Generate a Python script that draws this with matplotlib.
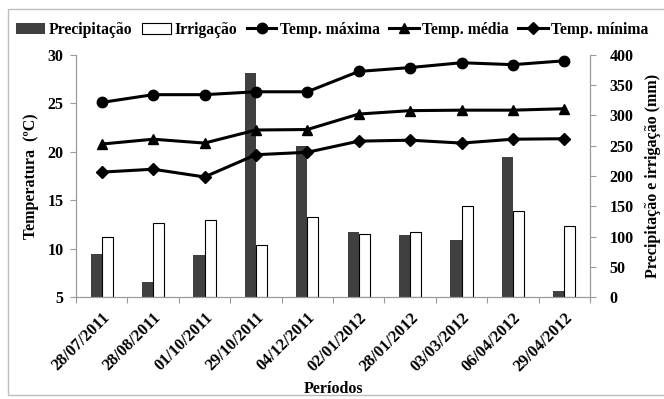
import matplotlib
matplotlib.use("Agg")
from matplotlib import pyplot as plt
from matplotlib.patches import Rectangle
import numpy as np

plt.rcParams['font.family'] = ['Liberation Serif', 'DejaVu Serif']
plt.rcParams['font.weight'] = 'bold'

periodos = ['28/07/2011', '28/08/2011', '01/10/2011', '29/10/2011', '04/12/2011',
            '02/01/2012', '28/01/2012', '03/03/2012', '06/04/2012', '29/04/2012']
precipitacao = [71, 24, 69, 370, 250, 107, 102, 95, 231, 10]
irrigacao = [99, 122, 127, 86, 132, 104, 107, 151, 142, 118]
temp_max = [25.1, 25.9, 25.9, 26.2, 26.2, 28.3, 28.7, 29.2, 29.0, 29.4]
temp_med = [20.8, 21.3, 20.9, 22.25, 22.3, 23.9, 24.25, 24.3, 24.3, 24.45]
temp_min = [17.9, 18.2, 17.4, 19.7, 19.95, 21.1, 21.2, 20.9, 21.3, 21.35]

x = np.arange(len(periodos))
w = 0.215
spine_col = '#9a9a9a'

fig = plt.figure(figsize=(6.64, 3.99), dpi=100)
ax = fig.add_axes([0.1145, 0.2556, 0.7741, 0.6066])
ax2 = ax.twinx()

ax2.bar(x - w / 2, precipitacao, w, color='#404040', label='Precipitação')
ax2.bar(x + w / 2, irrigacao, w, color='white', edgecolor='black', linewidth=0.8,
        label='Irrigação')

ax.plot(x, temp_max, 'k-', marker='o', markersize=7.5, linewidth=2.2, label='Temp. máxima')
ax.plot(x, temp_med, 'k-', marker='^', markersize=7.5, linewidth=2.2, label='Temp. média')
ax.plot(x, temp_min, 'k-', marker='D', markersize=6, linewidth=2.2, label='Temp. mínima')

ax.set_zorder(ax2.get_zorder() + 1)
ax.patch.set_visible(False)

ax.set_xlim(-0.5, len(periodos) - 0.5)
ax.set_ylim(5, 30)
ax.set_yticks(np.arange(5, 31, 5))
ax2.set_ylim(0, 400)
ax2.set_yticks(np.arange(0, 401, 50))

ax.set_xticks(np.arange(-0.5, len(periodos), 1))
ax.set_xticklabels([])
ax.set_xticks(x, minor=True)
ax.set_xticklabels(periodos, minor=True, rotation=45, ha='right',
                   rotation_mode='anchor', fontsize=12, fontweight='bold')
ax.tick_params(axis='x', which='minor', length=0, pad=9)
ax.tick_params(axis='x', which='major', length=4, color=spine_col)
ax.tick_params(axis='y', length=4, color=spine_col, labelsize=11.5, pad=5)
ax2.tick_params(axis='y', length=4, color=spine_col, labelsize=11.5, pad=10)

for a in (ax, ax2):
    a.spines['top'].set_visible(False)
    for s in ('left', 'right', 'bottom'):
        a.spines[s].set_color(spine_col)

ax.set_ylabel('Temperatura  (ºC)', fontsize=11.5, fontweight='bold', labelpad=6)
ax2.set_ylabel('Precipitação e irrigação (mm)', fontsize=11.5, fontweight='bold', labelpad=8)
ax.set_xlabel('Períodos', fontsize=11.5, fontweight='bold')
ax.xaxis.set_label_coords(0.5, -0.345)

h2, l2 = ax2.get_legend_handles_labels()
h1, l1 = ax.get_legend_handles_labels()
fig.legend(h2 + h1, l2 + l1, loc='center', bbox_to_anchor=(0.5, 0.925), ncol=5,
           frameon=False, fontsize=11.3, handlelength=1.9, handletextpad=0.2,
           columnspacing=0.6, borderaxespad=0)

fig.patches.append(Rectangle((0.0125, 0.01), 1.0, 0.967, transform=fig.transFigure,
                             fill=False, edgecolor='#bdbdbd', linewidth=1))

fig.savefig('out.png', dpi=100)
